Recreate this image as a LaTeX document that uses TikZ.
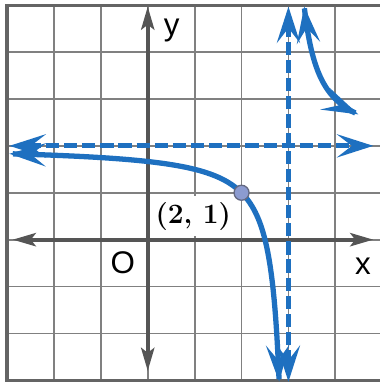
\documentclass[tikz,border=0pt]{standalone}
\usepackage{fontspec}
\newfontfamily\labfont{Liberation Sans}
\usetikzlibrary{arrows.meta}
\definecolor{curveblue}{RGB}{30,112,192}
\definecolor{gridgray}{RGB}{128,128,128}
\definecolor{framegray}{RGB}{100,100,100}
\definecolor{axisgray}{RGB}{85,85,85}
\definecolor{ptfill}{RGB}{140,155,208}
\definecolor{ptdraw}{RGB}{100,105,130}
\tikzset{
 gridline/.style={gridgray, line width=1.1pt},
 frameline/.style={framegray, line width=2pt},
 axisline/.style={axisgray, line width=2.4pt,
   arrows={Stealth[length=14pt,width=8pt,inset=3pt]-Stealth[length=14pt,width=8pt,inset=3pt]}},
 curve/.style={curveblue, line width=3.2pt,
   arrows={Stealth[length=22pt,width=14pt,inset=9pt]-Stealth[length=22pt,width=14pt,inset=9pt]}},
 asym/.style={curve, dash pattern=on 8pt off 3pt},
 axlabel/.style={font=\labfont\fontsize{19}{19}\selectfont, inner sep=0pt},
 ptlabel/.style={font=\bfseries\fontsize{17}{17}\selectfont, fill=white, minimum width=1.8cm, minimum height=0.85cm, inner sep=0pt},
 pt/.style={circle, fill=ptfill, draw=ptdraw, line width=0.8pt, minimum size=0.32cm, inner sep=0pt},
}
\begin{document}
\begin{tikzpicture}
\clip (-3.15,-3.12) rectangle (4.95,5.11);
\fill[white] (-3.15,-3.12) rectangle (4.95,5.11);
\draw[gridline] (-3,-3) grid (5,5);
\draw[frameline] (5.2,-3) -- (-3,-3) -- (-3,5) -- (5.2,5);
\node[ptlabel] (plab) at (0.97,0.5) {(2, 1)};
% axes
\coordinate (xl) at (-2.88,0);
\coordinate (xr) at (4.81,0);
\coordinate (yb) at (0,-2.8);
\coordinate (yt) at (0,4.97);
\draw[axisline] (xl) -- (xr);
\draw[axisline] (yb) -- (yt);
% asymptotes
\coordinate (hl) at (-2.95,2);
\coordinate (hr) at (4.81,2);
\coordinate (vb) at (3,-3.03);
\coordinate (vt) at (3,4.97);
\draw[asym] (hl) -- (hr);
\draw[asym] (vb) -- (vt);
% branches
\draw[curve] plot[domain=-2.95:2, samples=60, smooth] (\x,{2+1/(\x-3)})
  -- plot[domain=1:-3.03, samples=60, smooth] ({3+1/(\x-2)},\x);
\draw[curve] plot[domain=4.97:2.67, samples=60, smooth] ({3+1/(\x-2)},\x);
\node[pt] (P) at (2,1) {};
\node[axlabel] (ylab) at (0.51,4.46) {y};
\node[axlabel] (olab) at (-0.53,-0.49) {O};
\node[axlabel] (xlab) at (4.59,-0.57) {x};
\end{tikzpicture}
\end{document}
